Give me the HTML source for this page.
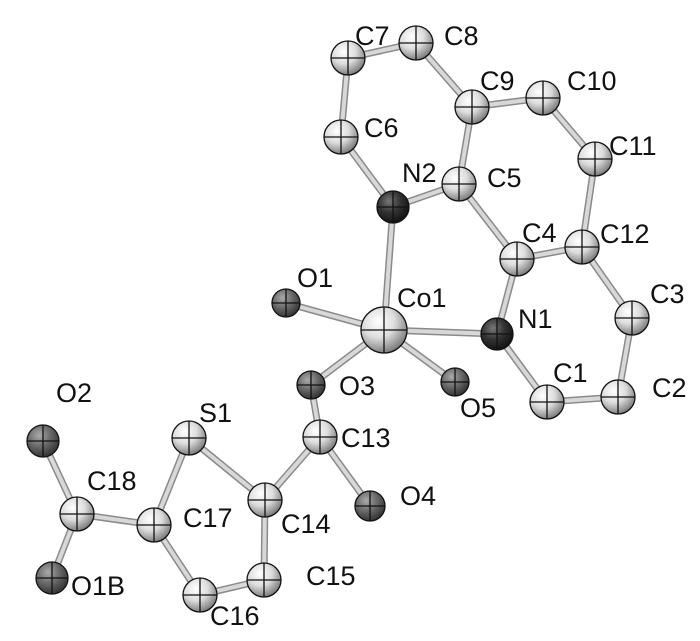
<!DOCTYPE html>
<html><head><meta charset="utf-8"><style>body{margin:0;background:#fff}svg{display:block}</style></head><body>
<svg width="700" height="641" viewBox="0 0 700 641" xmlns="http://www.w3.org/2000/svg">
<defs>
<radialGradient id="gC" cx="0.38" cy="0.32" r="0.7"><stop offset="0" stop-color="#fff"/><stop offset="0.5" stop-color="#ddd"/><stop offset="1" stop-color="#7a7a7a"/></radialGradient>
<radialGradient id="gO" cx="0.38" cy="0.32" r="0.7"><stop offset="0" stop-color="#aaa"/><stop offset="0.5" stop-color="#6a6a6a"/><stop offset="1" stop-color="#333"/></radialGradient>
<radialGradient id="gN" cx="0.38" cy="0.32" r="0.7"><stop offset="0" stop-color="#777"/><stop offset="0.5" stop-color="#333"/><stop offset="1" stop-color="#111"/></radialGradient>
</defs>
<g stroke-linecap="round" fill="none">
<path stroke="#8a8a8a" stroke-width="7" fill="none" d="M348 58L416 43L472 107L543 98L595 159L582 247L632 318L618 397L547 402L497 334L517 259L582 247M472 107L459 184L517 259M459 184L393 207L341 137L348 58M393 207L384 330L497 334M384 330L286 303M384 330L311 385M384 330L455 382M311 385L320 437L370 506M320 437L265 500L189 438L154 525L77 514L43 441M77 514L52 578M154 525L200 595L264 580L265 500"/>
<path stroke="#d8d8d8" stroke-width="4" fill="none" d="M348 58L416 43L472 107L543 98L595 159L582 247L632 318L618 397L547 402L497 334L517 259L582 247M472 107L459 184L517 259M459 184L393 207L341 137L348 58M393 207L384 330L497 334M384 330L286 303M384 330L311 385M384 330L455 382M311 385L320 437L370 506M320 437L265 500L189 438L154 525L77 514L43 441M77 514L52 578M154 525L200 595L264 580L265 500"/>
</g>
<g stroke="#111" stroke-width="1.3">
<g fill="url(#gC)">
<circle cx="348" cy="58" r="17"/><circle cx="416" cy="43" r="17"/><circle cx="472" cy="107" r="17"/><circle cx="543" cy="98" r="17"/><circle cx="341" cy="137" r="17"/><circle cx="595" cy="159" r="17"/><circle cx="459" cy="184" r="17"/><circle cx="517" cy="259" r="17"/><circle cx="582" cy="247" r="17"/><circle cx="632" cy="318" r="17"/><circle cx="618" cy="397" r="17"/><circle cx="547" cy="402" r="17"/><circle cx="320" cy="437" r="17"/><circle cx="265" cy="500" r="17"/><circle cx="154" cy="525" r="17"/><circle cx="77" cy="514" r="17"/><circle cx="200" cy="595" r="17"/><circle cx="264" cy="580" r="17"/><circle cx="189" cy="438" r="17"/>
<circle cx="384" cy="330" r="23"/>
</g>
<g fill="url(#gO)">
<circle cx="286" cy="303" r="14"/><circle cx="311" cy="385" r="14"/><circle cx="455" cy="382" r="14"/><circle cx="370" cy="506" r="15"/><circle cx="43" cy="441" r="16"/><circle cx="52" cy="578" r="16"/>
</g>
<g fill="url(#gN)">
<circle cx="393" cy="207" r="16"/><circle cx="497" cy="334" r="16"/>
</g>
<path fill="none" d="M331 58h34M348 41v34M399 43h34M416 26v34M455 107h34M472 90v34M526 98h34M543 81v34M324 137h34M341 120v34M578 159h34M595 142v34M442 184h34M459 167v34M500 259h34M517 242v34M565 247h34M582 230v34M615 318h34M632 301v34M601 397h34M618 380v34M530 402h34M547 385v34M303 437h34M320 420v34M248 500h34M265 483v34M137 525h34M154 508v34M60 514h34M77 497v34M183 595h34M200 578v34M247 580h34M264 563v34M172 438h34M189 421v34M361 330h46M384 307v46M272 303h28M286 289v28M297 385h28M311 371v28M441 382h28M455 368v28M355 506h30M370 491v30M27 441h32M43 425v32M36 578h32M52 562v32M377 207h32M393 191v32M481 334h32M497 318v32"/>
</g>
<g font-family="Liberation Sans, Arial, sans-serif" font-size="27" fill="#111">
<text x="355" y="45">C7</text><text x="444" y="45">C8</text><text x="480" y="90">C9</text><text x="567" y="90">C10</text><text x="364" y="137">C6</text><text x="609" y="155">C11</text>
<text x="402" y="182">N2</text><text x="487" y="187">C5</text><text x="522" y="242">C4</text><text x="600" y="243">C12</text><text x="650" y="303">C3</text>
<text x="297" y="287">O1</text><text x="397" y="307">Co1</text><text x="518" y="328">N1</text><text x="553" y="382">C1</text><text x="652" y="397">C2</text>
<text x="339" y="395">O3</text><text x="460" y="417">O5</text><text x="56" y="402">O2</text><text x="199" y="422">S1</text><text x="341" y="447">C13</text>
<text x="400" y="505">O4</text><text x="87" y="490">C18</text><text x="183" y="527">C17</text><text x="281" y="533">C14</text><text x="306" y="585">C15</text><text x="210" y="625">C16</text><text x="71" y="595">O1B</text>
</g>
</svg>
</body></html>
